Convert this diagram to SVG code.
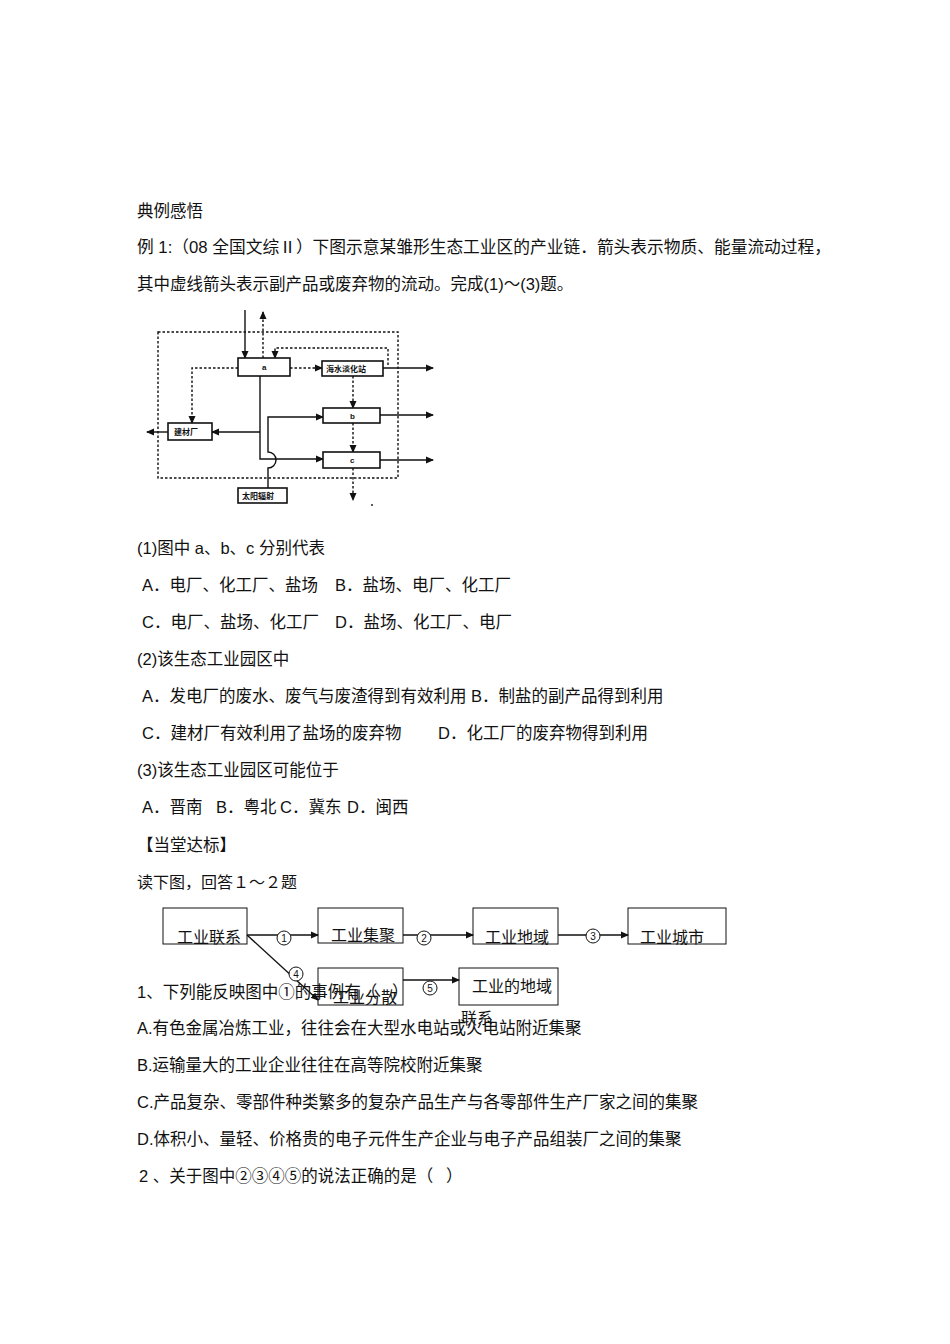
<svg xmlns="http://www.w3.org/2000/svg" width="950" height="1344" viewBox="0 0 950 1344">
<style>
text{font-family:"Liberation Sans","Noto Sans CJK SC",sans-serif;font-size:16.5px;fill:#111}
.s{font-family:"Liberation Serif","Noto Sans CJK SC",serif;font-size:16px}
.ln{stroke:#111;stroke-width:1.4;fill:none}
.d{stroke:#111;stroke-width:1.4;fill:none;stroke-dasharray:2.5,2}
.bx{fill:#fff;stroke:#111;stroke-width:1.6}
.tb{font-size:8px;font-weight:bold}
.c{fill:#fff;stroke:#111;stroke-width:1}
.ct{font-size:10px;text-anchor:middle}
</style>
<defs>
<marker id="ar" markerWidth="8" markerHeight="8" refX="7" refY="4" orient="auto" markerUnits="userSpaceOnUse"><path d="M0,0.5 L8,4 L0,7.5z" fill="#111"/></marker>
</defs>
<rect width="950" height="1344" fill="#fff"/>
<text x="137" y="217">典例感悟</text>
<text x="137" y="253" textLength="694" lengthAdjust="spacingAndGlyphs">例 1:（08 全国文综Ⅱ）下图示意某雏形生态工业区的产业链．箭头表示物质、能量流动过程，</text>
<text x="137" y="290">其中虚线箭头表示副产品或废弃物的流动。完成(1)～(3)题。</text>
<g id="connectors1">
<rect x="158" y="332" width="240" height="146" class="d"/>
<path d="M245,310 V358" class="ln" marker-end="url(#ar)"/>
<path d="M263,358 V312" class="d" marker-end="url(#ar)"/>
<path d="M388,365 V348 H275 V358" class="d" marker-end="url(#ar)"/>
<path d="M290,368 H322" class="d" marker-end="url(#ar)"/>
<path d="M238,368 H192 V423" class="d" marker-end="url(#ar)"/>
<path d="M383,368 H433" class="ln" marker-end="url(#ar)"/>
<path d="M380,415 H433" class="ln" marker-end="url(#ar)"/>
<path d="M380,460 H433" class="ln" marker-end="url(#ar)"/>
<path d="M353,376 V408" class="d" marker-end="url(#ar)"/>
<path d="M353,423 V452" class="d" marker-end="url(#ar)"/>
<path d="M353,468 V500" class="d" marker-end="url(#ar)"/>
<path d="M260,376 V459 H323" class="ln" marker-end="url(#ar)"/>
<path d="M260,432 H212" class="ln" marker-end="url(#ar)"/>
<path d="M168,432 H147" class="ln" marker-end="url(#ar)"/>
<path d="M268,488 V468 A8,8 0 0 0 268,452 V417 H323" class="ln" marker-end="url(#ar)"/>
<circle cx="372" cy="505" r="0.9" fill="#111"/>
</g>
<g id="a"><rect x="238" y="358" width="52" height="18" class="bx"/><text x="262" y="370" class="tb">a</text></g>
<g id="haishui"><rect x="322" y="361" width="61" height="15" class="bx"/><text x="326" y="372" class="tb">海水淡化站</text></g>
<g id="b"><rect x="323" y="408" width="57" height="15" class="bx"/><text x="350" y="419" class="tb">b</text></g>
<g id="c"><rect x="323" y="452" width="57" height="16" class="bx"/><text x="350" y="463" class="tb">c</text></g>
<g id="jiancai"><rect x="168" y="423" width="44" height="17" class="bx"/><text x="174" y="435" class="tb">建材厂</text></g>
<g id="taiyang"><rect x="238" y="488" width="49" height="15" class="bx"/><text x="242" y="499" class="tb">太阳辐射</text></g>

<text x="137" y="554">(1)图中 a、b、c 分别代表</text>
<text x="142" y="591">A．电厂、化工厂、盐场</text>
<text x="335" y="591">B．盐场、电厂、化工厂</text>
<text x="142" y="628">C．电厂、盐场、化工厂</text>
<text x="335" y="628">D．盐场、化工厂、电厂</text>
<text x="137" y="665">(2)该生态工业园区中</text>
<text x="142" y="702">A．发电厂的废水、废气与废渣得到有效利用 B．制盐的副产品得到利用</text>
<text x="142" y="739">C．建材厂有效利用了盐场的废弃物</text>
<text x="438" y="739">D．化工厂的废弃物得到利用</text>
<text x="137" y="776">(3)该生态工业园区可能位于</text>
<text x="142" y="813">A．晋南</text><text x="216" y="813">B．粤北</text><text x="280" y="813">C．冀东</text><text x="347" y="813">D．闽西</text>
<text x="137" y="851">【当堂达标】</text>
<text x="137" y="888" class="s">读下图，回答１～２题</text>

<g id="connectors2">
<path d="M247,935 H318" class="ln" marker-end="url(#ar)"/>
<path d="M403,935 H473" class="ln" marker-end="url(#ar)"/>
<path d="M558,935 H628" class="ln" marker-end="url(#ar)"/>
<path d="M247,935 L318,1000" class="ln" marker-end="url(#ar)"/>
<path d="M403,980 H459" class="ln" marker-end="url(#ar)"/>
<circle cx="284" cy="938" r="7" class="c"/><text x="284" y="942" class="ct">1</text>
<circle cx="424" cy="938" r="7" class="c"/><text x="424" y="942" class="ct">2</text>
<circle cx="593" cy="936" r="7" class="c"/><text x="593" y="940" class="ct">3</text>
<circle cx="296" cy="974" r="7" class="c"/><text x="296" y="978" class="ct">4</text>
<circle cx="430" cy="988" r="7" class="c"/><text x="430" y="992" class="ct">5</text>
</g>
<g id="n1"><rect x="163" y="908" width="84" height="36" fill="none" stroke="#111"/><text x="177" y="943" class="s">工业联系</text></g>
<g id="n2"><rect x="318" y="908" width="85" height="35" fill="none" stroke="#111"/><text x="331" y="941" class="s">工业集聚</text></g>
<g id="n3"><rect x="473" y="908" width="85" height="36" fill="none" stroke="#111"/><text x="485" y="943" class="s">工业地域</text></g>
<g id="n4"><rect x="628" y="908" width="98" height="36" fill="none" stroke="#111"/><text x="640" y="943" class="s">工业城市</text></g>
<g id="n5"><rect x="318" y="968" width="85" height="37" fill="none" stroke="#111"/><text x="333" y="1003" class="s">工业分散</text></g>
<g id="n6"><rect x="459" y="968" width="99" height="37" fill="none" stroke="#111"/><text x="472" y="992" class="s">工业的地域</text><text x="461" y="1024" class="s">联系</text></g>
<text x="137" y="998">1、下列能反映图中①的事例有（</text><text x="392" y="998">）</text>
<text x="137" y="1034">A.有色金属冶炼工业，往往会在大型水电站或火电站附近集聚</text>
<text x="137" y="1071">B.运输量大的工业企业往往在高等院校附近集聚</text>
<text x="137" y="1108">C.产品复杂、零部件种类繁多的复杂产品生产与各零部件生产厂家之间的集聚</text>
<text x="137" y="1145">D.体积小、量轻、价格贵的电子元件生产企业与电子产品组装厂之间的集聚</text>
<text x="139" y="1182">2 、关于图中②③④⑤的说法正确的是（</text><text x="446" y="1182">）</text>
</svg>
